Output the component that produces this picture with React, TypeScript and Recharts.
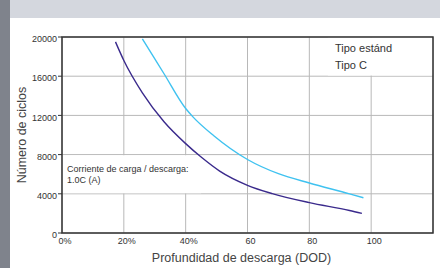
import React from "react";
import {
  CartesianGrid,
  Label,
  Line,
  LineChart,
  ReferenceArea,
  XAxis,
  YAxis,
} from "recharts";

// Ciclos vs. profundidad de descarga.
const DOD_STD = [17.3, 20, 26, 33, 40, 45, 51, 60, 68, 80, 93, 97];
const CYCLES_STD = [19500, 17600, 14300, 11350, 9120, 7750, 6320, 4870, 4020, 3100, 2300, 2000];
const DOD_C = [26, 33, 40, 42.5, 49, 60, 70, 80, 93, 97.5];
const CYCLES_C = [19800, 16250, 12700, 11800, 9950, 7500, 6050, 5100, 4000, 3600];

const X_TICKS = [0, 20, 40, 60, 80, 100];
const X_LABELS = ["0%", "20%", "40%", "60", "80", "100"];
const Y_TICKS = [0, 4000, 8000, 12000, 16000, 20000];

const SERIES_NAMES = ["Tipo estánd", "Tipo C"];

const stdData = DOD_STD.map((d, i) => ({ dod: d, cycles: CYCLES_STD[i] }));
const cData = DOD_C.map((d, i) => ({ dod: d, cycles: CYCLES_C[i] }));

const INK = "#333";
const TICK = { fill: INK, fontSize: 9 };
const FONT = '"Liberation Sans", Arial, sans-serif';

export default function App() {
  return (
    <div
      style={{
        position: "absolute",
        left: 0,
        top: 0,
        width: 440,
        height: 268,
        background: "#fff",
        fontFamily: FONT,
        overflow: "hidden",
      }}
    >
      <div style={{ position: "absolute", left: 0, top: 0, width: 10, height: 268, background: "#7f838c" }} />
      <div style={{ position: "absolute", left: 10, top: 0, width: 430, height: 18, background: "#d4d7de" }} />
      <div style={{ position: "absolute", left: 0, top: 0 }}>
        <LineChart width={440} height={268} margin={{ top: 37, right: 7, bottom: 0, left: 10 }}>
          <CartesianGrid stroke="#b8b8b8" strokeWidth={1} />
          <XAxis
            type="number"
            dataKey="dod"
            domain={[0, 120]}
            ticks={X_TICKS}
            tickFormatter={(v) => X_LABELS[X_TICKS.indexOf(v)]}
            tick={{ ...TICK, dx: 3 }}
            tickLine={false}
            tickSize={3}
            tickMargin={2}
            axisLine={false}
            height={35}
          >
            <Label
              value="Profundidad de descarga (DOD)"
              position="insideBottom"
              offset={6}
              dx={-6}
              style={{ fill: "#444", fontSize: 12.5 }}
            />
          </XAxis>
          <YAxis
            type="number"
            domain={[0, 20000]}
            ticks={Y_TICKS}
            tick={{ ...TICK, dy: 2 }}
            tickSize={4}
            tickMargin={1}
            tickLine={{ stroke: INK }}
            axisLine={false}
            width={52}
          >
            <Label
              value="Número de ciclos"
              angle={-90}
              position="insideLeft"
              offset={12}
              style={{ fill: "#444", fontSize: 12.5, textAnchor: "middle" }}
            />
          </YAxis>
          <ReferenceArea x1={0.2} x2={45} y1={4060} y2={7940} fill="#fff" fillOpacity={1} stroke="none" />
          <ReferenceArea x1={86} x2={119.8} y1={16060} y2={19940} fill="#fff" fillOpacity={1} stroke="none" />
          <ReferenceArea x1={0} x2={120} y1={0} y2={20000} fill="none" stroke={INK} strokeWidth={1.5} />
          <Line
            data={stdData}
            dataKey="cycles"
            name={SERIES_NAMES[0]}
            type="monotone"
            stroke="#3a2a8c"
            strokeWidth={1.4}
            dot={false}
            isAnimationActive={false}
          />
          <Line
            data={cData}
            dataKey="cycles"
            name={SERIES_NAMES[1]}
            type="monotone"
            stroke="#3fc2f0"
            strokeWidth={1.4}
            dot={false}
            isAnimationActive={false}
          />
        </LineChart>
      </div>
      <div style={{ position: "absolute", left: 335, top: 40, fontSize: 11, lineHeight: "17px", color: INK }}>
        {SERIES_NAMES.map((n) => (
          <div key={n}>{n}</div>
        ))}
      </div>
      <div style={{ position: "absolute", left: 67, top: 164, fontSize: 9, lineHeight: "11px", color: INK }}>
        <div>Corriente de carga / descarga:</div>
        <div>1.0C (A)</div>
      </div>
    </div>
  );
}
